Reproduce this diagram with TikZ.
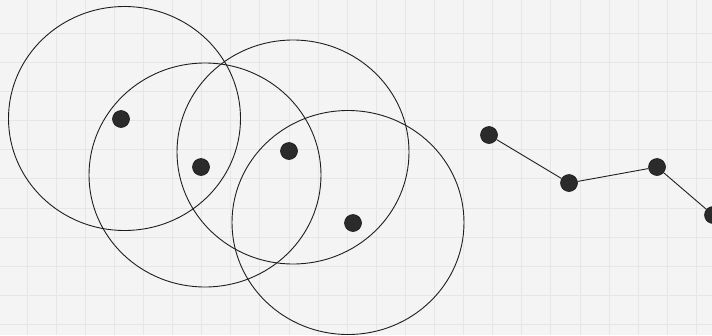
\documentclass[tikz,border=0pt]{standalone}
\usetikzlibrary{shapes.geometric}
\definecolor{bg}{HTML}{F4F4F4}
\definecolor{gridc}{HTML}{E6E6E6}
\definecolor{dotc}{HTML}{2B2B2B}
\definecolor{linec}{HTML}{1E1E1E}
\tikzset{
  gridline/.style={draw=gridc, line width=0.8pt},
  ring/.style={ellipse, draw=linec, line width=0.9pt, minimum width=232pt, minimum height=224pt, inner sep=0pt},
  pt/.style={circle, fill=dotc, draw=black!90, line width=0.6pt, minimum size=17pt, inner sep=0pt},
  link/.style={draw=linec, line width=0.9pt}
}
\begin{document}
\begin{tikzpicture}[x=1pt,y=-1pt]
\useasboundingbox (0,0) rectangle (712,335);
\clip (0,0) rectangle (712,335);
\fill[bg] (0,0) rectangle (712,335);
\foreach \i in {1,...,25} {\draw[gridline] ({-2.1+29.1*\i},0) -- ({-2.1+29.1*\i},335);}
\foreach \j in {1,...,11} {\draw[gridline] (0,{4.2+29.1*\j}) -- (712,{4.2+29.1*\j});}
% circles
\node[ring] (c1) at (124.5,118.5) {};
\node[ring] (c2) at (205,175) {};
\node[ring] (c3) at (293,152) {};
\node[ring] (c4) at (348,222.5) {};
% points inside circles
\node[pt] (p1) at (121,119) {};
\node[pt] (p2) at (201,167) {};
\node[pt] (p3) at (289,151) {};
\node[pt] (p4) at (353,223) {};
% chain
\node[pt] (q1) at (489,135) {};
\node[pt] (q2) at (569,183) {};
\node[pt] (q3) at (657,167) {};
\node[pt] (q4) at (713,215) {};
\draw[link] (q1) -- (q2);
\draw[link] (q2) -- (q3);
\draw[link] (q3) -- (q4);
\end{tikzpicture}
\end{document}
